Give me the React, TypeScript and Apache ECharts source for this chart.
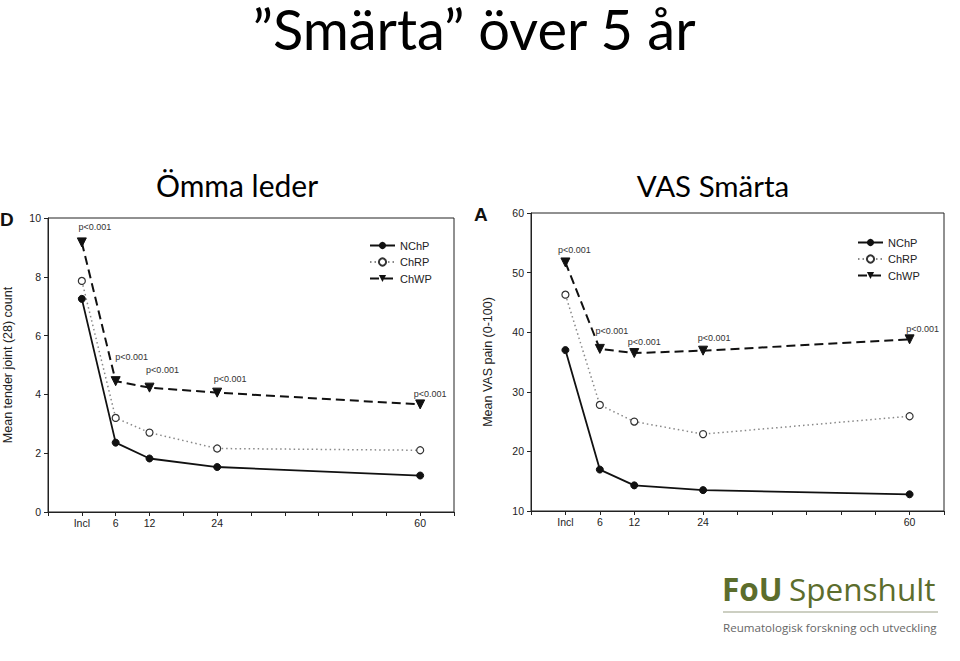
import React, { useEffect, useRef } from "react";
import * as echarts from "echarts";

// ---- data ----
const months = [0, 6, 12, 24, 60];
const xTickLabels: Record<number, string> = { 0: "Incl", 6: "6", 12: "12", 24: "24", 60: "60" };
const seriesNames = ["NChP", "ChRP", "ChWP"];

const tenderNChP = [7.25, 2.36, 1.82, 1.53, 1.24];
const tenderChRP = [7.86, 3.2, 2.7, 2.16, 2.1];
const tenderChWP = [9.17, 4.45, 4.23, 4.06, 3.66];

const vasNChP = [37.0, 16.95, 14.3, 13.5, 12.8];
const vasChRP = [46.3, 27.8, 25.0, 22.9, 25.9];
const vasChWP = [51.7, 37.2, 36.5, 36.9, 38.8];

const pLabel = "p<0.001";

const mainTitle = "\u201DSmärta\u201D över 5 år";
const leftTitle = "Ömma leder";
const rightTitle = "VAS Smärta";
const leftAxisName = "Mean tender joint (28) count";
const rightAxisName = "Mean VAS pain (0-100)";
const leftPanel = "D";
const rightPanel = "A";
const logoBold = "FoU";
const logoRegular = "Spenshult";
const logoSub = "Reumatologisk forskning och utveckling";

// label offsets (style only)
const leftPOffsets = [[13, -15], [16, -24], [13, -18], [13, -14], [10, -10]];
const rightPOffsets = [[9, -12], [12, -18], [10, -11], [11, -13], [13, -10]];

const AX = "Liberation Sans, Arial, sans-serif";

function xAxis(gridIndex: number) {
  return {
    type: "value",
    gridIndex,
    min: -6,
    max: 66,
    interval: 6,
    axisLine: { show: true, onZero: false, lineStyle: { color: "#222", width: 1 } },
    axisTick: { show: true, inside: false, length: 4, lineStyle: { color: "#222" } },
    splitLine: { show: false },
    axisLabel: {
      color: "#222",
      fontFamily: AX,
      fontSize: 10.5,
      margin: 5,
      formatter: (v: number) => xTickLabels[v] ?? "",
    },
  };
}

function yAxis(gridIndex: number, min: number, max: number, interval: number, name: string, nameGap: number) {
  return {
    type: "value",
    gridIndex,
    min,
    max,
    interval,
    name,
    nameLocation: "middle",
    nameGap,
    nameTextStyle: { color: "#222", fontFamily: AX, fontSize: 12.5 },
    axisLine: { show: true, onZero: false, lineStyle: { color: "#222", width: 1 } },
    axisTick: { show: true, inside: false, length: 4, lineStyle: { color: "#222" } },
    splitLine: { show: false },
    axisLabel: { color: "#222", fontFamily: AX, fontSize: 10.5, margin: 7 },
  };
}

function makeSeries(idx: number, a: number[], b: number[], c: number[], offsets: number[][]) {
  return [
    {
      name: seriesNames[0],
      type: "line",
      xAxisIndex: idx,
      yAxisIndex: idx,
      data: months.map((m, i) => [m, a[i]]),
      symbol: "circle",
      symbolSize: 7,
      lineStyle: { color: "#111", width: 1.8, type: "solid" },
      itemStyle: { color: "#111", borderColor: "#111" },
      z: 3,
    },
    {
      name: seriesNames[1],
      type: "line",
      xAxisIndex: idx,
      yAxisIndex: idx,
      data: months.map((m, i) => [m, b[i]]),
      symbol: "circle",
      symbolSize: 7,
      lineStyle: { color: "#888", width: 1.5, type: [1.5, 3] },
      itemStyle: { color: "#fff", borderColor: "#333", borderWidth: 1.2 },
      z: 3,
    },
    {
      name: seriesNames[2],
      type: "line",
      xAxisIndex: idx,
      yAxisIndex: idx,
      data: months.map((m, i) => ({
        value: [m, c[i]],
        label: { offset: offsets[i] },
      })),
      symbol: "triangle",
      symbolRotate: 180,
      symbolSize: 9,
      lineStyle: { color: "#111", width: 2, type: [9, 5] },
      itemStyle: { color: "#111", borderColor: "#111" },
      label: {
        show: true,
        position: "inside",
        formatter: () => pLabel,
        color: "#333",
        fontFamily: AX,
        fontSize: 9,
        align: "center",
        verticalAlign: "middle",
      },
      z: 4,
    },
  ];
}

function legend(left: number, top: number) {
  return {
    orient: "vertical",
    left,
    top,
    itemWidth: 25,
    itemHeight: 9,
    itemGap: 5.5,
    data: seriesNames,
    textStyle: { color: "#222", fontFamily: AX, fontSize: 11 },
    selectedMode: false,
  };
}

export default function App() {
  const ref = useRef<HTMLDivElement>(null);
  useEffect(() => {
    if (!ref.current) return;
    const chart = echarts.init(ref.current, undefined, { renderer: "svg" });
    const green = "#5c6d2c";
    chart.setOption({
      animation: false,
      backgroundColor: "#ffffff",
      grid: [
        { left: 47, top: 218, width: 407, height: 294, show: true, borderColor: "#222", borderWidth: 1, backgroundColor: "transparent" },
        { left: 531, top: 213, width: 413, height: 298, show: true, borderColor: "#222", borderWidth: 1, backgroundColor: "transparent" },
      ],
      xAxis: [xAxis(0), xAxis(1)],
      yAxis: [
        yAxis(0, 0, 10, 2, leftAxisName, 34),
        yAxis(1, 10, 60, 10, rightAxisName, 37),
      ],
      legend: [legend(364, 235), legend(852, 232)],
      series: [
        ...makeSeries(0, tenderNChP, tenderChRP, tenderChWP, leftPOffsets),
        ...makeSeries(1, vasNChP, vasChRP, vasChWP, rightPOffsets),
      ],
      graphic: [
        { type: "text", x: 474, y: 28, style: { text: mainTitle, fill: "#000", font: "56px Lato, sans-serif", lineHeight: 52, textAlign: "center", textVerticalAlign: "middle" } },
        { type: "text", x: 237, y: 185, style: { text: leftTitle, fill: "#000", font: "30px Lato, sans-serif", textAlign: "center", textVerticalAlign: "middle" } },
        { type: "text", x: 713, y: 185, style: { text: rightTitle, fill: "#000", font: "29.5px Lato, sans-serif", textAlign: "center", textVerticalAlign: "middle" } },
        { type: "text", x: 0, y: 219, style: { text: leftPanel, fill: "#111", font: "bold 19px Liberation Sans, Arial, sans-serif", textAlign: "left", textVerticalAlign: "middle" } },
        { type: "text", x: 474, y: 214, style: { text: rightPanel, fill: "#111", font: "bold 19px Liberation Sans, Arial, sans-serif", textAlign: "left", textVerticalAlign: "middle" } },
        { type: "text", x: 722, y: 588, style: { text: logoBold, fill: green, font: "bold 31.5px Open Sans, sans-serif", textAlign: "left", textVerticalAlign: "middle" } },
        { type: "text", x: 789, y: 588, style: { text: logoRegular, fill: green, font: "31.5px Open Sans, sans-serif", textAlign: "left", textVerticalAlign: "middle" } },
        { type: "line", shape: { x1: 723, y1: 612, x2: 938, y2: 612 }, style: { stroke: "#9a9f85", lineWidth: 1 } },
        { type: "text", x: 723, y: 627, style: { text: logoSub, fill: "#666", font: "11.6px Open Sans, sans-serif", textAlign: "left", textVerticalAlign: "middle" } },
      ],
    });
    return () => chart.dispose();
  }, []);
  return <div ref={ref} style={{ position: "fixed", left: 0, top: 0, width: 960, height: 661, background: "#fff" }} />;
}
